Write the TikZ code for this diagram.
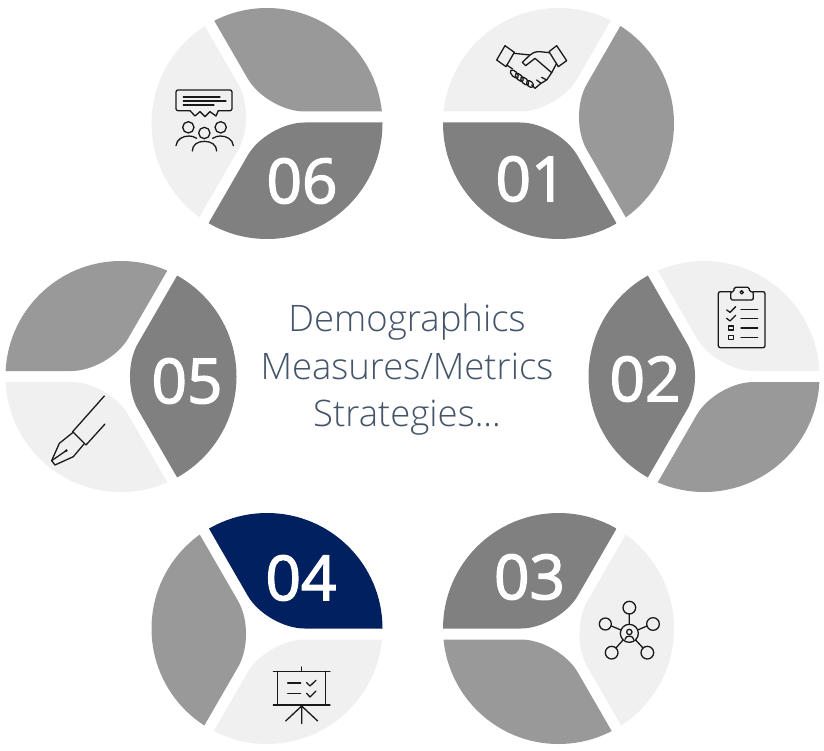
\documentclass[tikz,border=0pt]{standalone}
\usepackage{fontspec}
\setmainfont{Open Sans}
\newfontfamily\digitfont[FakeBold=2.2]{Open Sans}
\newfontfamily\lightfont{Open Sans Light}
\usetikzlibrary{calc}
\definecolor{cdark}{HTML}{808080}
\definecolor{cmid}{HTML}{999999}
\definecolor{clight}{HTML}{F0F0F0}
\definecolor{cnavy}{HTML}{002060}
\definecolor{ctext}{HTML}{44546A}
\tikzset{
  numlabel/.style={text=white,font=\digitfont\fontsize{62}{62}\selectfont,inner sep=0pt,anchor=center},
  midlabel/.style={text=ctext,font=\lightfont\fontsize{36.5}{36.5}\selectfont,inner sep=0pt,anchor=base},
  icon/.style={draw=black!90,line width=1.3pt,line cap=round,line join=round},
  zoomed/.style={shift={(#1)},scale=0.33333}
}
\newcommand{\piece}[2]{%
  \fill[#2,rounded corners=38pt] ($(#1+60:6.35)+(#1:500)$) -- ($(#1+60:6.35)$) -- ($(#1+60:6.35)+(#1+120:500)$) -- ($(#1+60:6.35)+(#1+60:900)$) -- cycle;}
\newcommand{\disc}[8]{%
  \begin{scope}
    \clip (#1,#2) circle (115.5);
    \begin{scope}[shift={(#3,#4)}]
      \pgfmathsetmacro{\ab}{#5+120}\pgfmathsetmacro{\ac}{#5+240}
      \piece{#5}{#6}\piece{\ab}{#7}\piece{\ac}{#8}
    \end{scope}
  \end{scope}}
\begin{document}
\begin{tikzpicture}[x=1pt,y=-1pt]
\useasboundingbox (0,0) rectangle (824,751);
\fill[white] (0,0) rectangle (824,751);
\disc{558.5}{123.5}{561.5}{117}{60}{cdark}{clight}{cmid}
\disc{267}{123.5}{263.5}{117}{0}{cdark}{clight}{cmid}
\disc{704}{376.5}{712.5}{376.5}{0}{cmid}{cdark}{clight}
\disc{121}{376.5}{112.5}{376.5}{60}{clight}{cmid}{cdark}
\disc{558.5}{628.5}{562}{634}{60}{cmid}{cdark}{clight}
\disc{267}{628.5}{263.5}{634}{0}{clight}{cmid}{cnavy}
\node[numlabel] (n01) at (531,179) {01};
\node[numlabel] (n02) at (645,379) {02};
\node[numlabel] (n03) at (529.5,577) {03};
\node[numlabel] (n04) at (301,578) {04};
\node[numlabel] (n05) at (187,381) {05};
\node[numlabel] (n06) at (302,181) {06};
\node[midlabel] (t1) at (407,331) {Demographics};
\node[midlabel] (t2) at (407,379) {Measures/Metrics};
\node[midlabel] (t3) at (407,426.5) {Strategies...};
% 06 audience icon
\begin{scope}[zoomed={140,0}]
  \draw[icon,rounded corners=2pt] (150,332) -- (108,332) -- (108,270) -- (276,270) -- (276,332) -- (235,332);
  \draw[icon] (150,332) -- (165,348) -- (180,335) -- (195,350) -- (210,335) -- (228,348) -- (235,332);
  \draw[icon] (130,291) -- (240,291) (130,303) -- (258,303) (130,315) -- (222,315);
  \draw[icon] (145,382) circle (17) (242,382) circle (17) (193,399) circle (17);
  \draw[icon] (108,437) .. controls (110,418) and (128,408) .. (147,408) .. controls (155,408) and (162,410) .. (170,415);
  \draw[icon] (280,437) .. controls (278,418) and (260,408) .. (241,408) .. controls (233,408) and (226,410) .. (218,415);
  \draw[icon] (157,453) .. controls (157,435) and (172,424) .. (193,424) .. controls (214,424) and (230,435) .. (230,453);
\end{scope}
% 01 handshake icon
\begin{scope}[zoomed={435,0}]
  \draw[icon] (210,137) -- (238,157) -- (213,200) -- (185,180) -- cycle;
  \draw[icon] (365,137) -- (395,182) -- (370,200) -- (342,155) -- cycle;
  \draw[icon] (342,158) -- (315,155) .. controls (300,155) and (292,158) .. (285,165) -- (262,187) -- (272,197) -- (300,175) -- (350,218);
  \draw[icon] (238,160) -- (285,165);
  \draw[icon] (215,195) -- (233,207);
  \draw[icon] (350,218) -- (365,190);
  \draw[icon] (350,218) -- (335,240) -- (320,232) (335,240) -- (318,250) -- (305,240) (318,250) -- (300,265) -- (290,255);
  \draw[icon] (238,222) ellipse [x radius=15,y radius=8,rotate=-45];
  \draw[icon] (253,232) ellipse [x radius=15,y radius=8,rotate=-45];
  \draw[icon] (269,243) ellipse [x radius=15,y radius=8,rotate=-45];
  \draw[icon] (285,252) ellipse [x radius=12,y radius=8,rotate=-45];
\end{scope}
% 02 clipboard icon
\begin{scope}[zoomed={580,250}]
  \draw[icon,rounded corners=2pt] (452,125) -- (415,125) -- (415,293) -- (555,293) -- (555,125) -- (520,125);
  \draw[icon,rounded corners=1.5pt] (452,125) -- (452,150) -- (520,150) -- (520,125) -- (508,125) -- (508,112) -- (462,112) -- (462,125) -- cycle;
  \draw[icon] (485,127) circle (5);
  \draw[icon] (440,180) -- (450,187) -- (467,170) (440,205) -- (450,213) -- (467,196);
  \draw[icon] (445,228) rectangle (460,240) (445,256) rectangle (460,268);
  \draw[icon] (483,178) -- (533,178) (483,206) -- (533,206) (483,234) -- (533,234) (483,262) -- (533,262);
\end{scope}
% 03 network icon
\begin{scope}[zoomed={435,501}]
  \draw[icon] (583,397) circle (27) (583,393) circle (8);
  \draw[icon] (570,415) .. controls (572,402) and (594,402) .. (596,415);
  \draw[icon] (583,320) circle (19) (654,369) circle (19) (511,369) circle (18) (530,455) circle (19) (637,455) circle (19);
  \draw[icon] (583,339) -- (583,370) (636,375) -- (608,387) (529,375) -- (558,387) (543,441) -- (564,417) (624,441) -- (602,417);
\end{scope}
% 04 presentation icon
\begin{scope}[zoomed={140,501}]
  \draw[icon] (400,511) -- (570,511) (485,498) -- (485,511) (413,511) -- (413,612) (557,511) -- (557,612) (400,612) -- (570,612);
  \draw[icon] (485,612) -- (485,668) (485,615) -- (437,660) (485,615) -- (533,660);
  \draw[icon] (443,546) -- (482,546) (443,577) -- (482,577);
  \draw[icon] (500,545) -- (510,555) -- (528,538) (500,577) -- (510,588) -- (528,570);
\end{scope}
% 05 pen icon
\begin{scope}[zoomed={0,250}]
  \draw[icon] (218,545) -- (313,438) (258,585) -- (315,522) (218,545) -- (258,585);
  \draw[icon] (218,548) -- (178,580) -- (155,632) -- (165,645) -- (220,620) -- (252,582);
  \draw[icon] (155,632) -- (197,603);
  \fill[black!90] (199,602) circle (4.5);
\end{scope}
\end{tikzpicture}
\end{document}
